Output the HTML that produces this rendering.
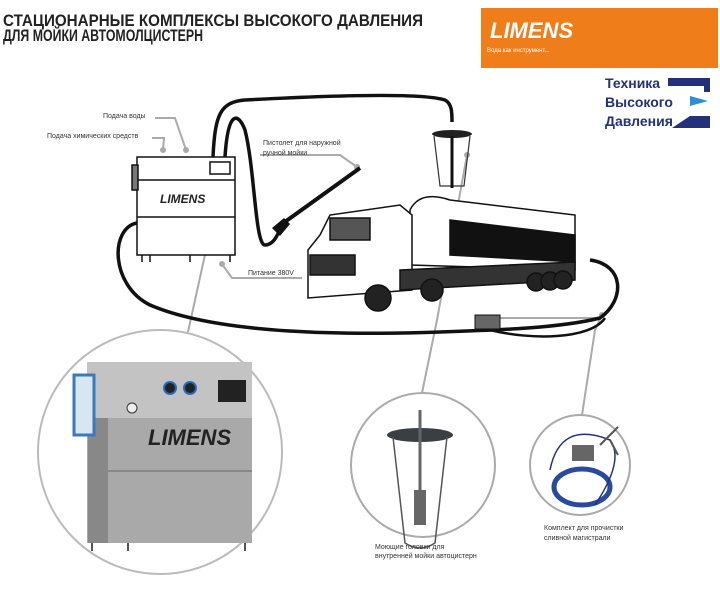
<!DOCTYPE html>
<html><head><meta charset="utf-8"><style>
body{margin:0;background:#fff;width:720px;height:595px;overflow:hidden;font-family:"Liberation Sans",sans-serif}
</style></head><body>
<svg width="720" height="595" viewBox="0 0 720 595" xmlns="http://www.w3.org/2000/svg" font-family="Liberation Sans, sans-serif">
<text x="3" y="26" font-size="17" font-weight="bold" fill="#222" textLength="420" lengthAdjust="spacingAndGlyphs">СТАЦИОНАРНЫЕ КОМПЛЕКСЫ ВЫСОКОГО ДАВЛЕНИЯ</text>
<text x="3" y="41" font-size="17" font-weight="bold" fill="#222" textLength="200" lengthAdjust="spacingAndGlyphs">ДЛЯ МОЙКИ АВТОМОЛЦИСТЕРН</text>
<rect x="481" y="8" width="237" height="60" fill="#ef7d1a"/>
<text x="490" y="38" font-size="22" font-weight="bold" font-style="italic" fill="#fff">LIMENS</text>
<text x="487" y="52" font-size="6" fill="#fff">Вода как инструмент...</text>
<g font-size="14" font-weight="bold" fill="#23307a">
<text x="605" y="88">Техника</text><text x="605" y="107">Высокого</text><text x="605" y="126">Давления</text></g>
<path d="M668 78h42v14h-6v-6h-36z" fill="#23307a"/><path d="M690 96l18 5-18 5z" fill="#2a8fd8"/><path d="M672 128l18-12h20v12z" fill="#23307a"/>
<!-- grey leaders -->
<g stroke="#aaa" stroke-width="2" fill="none">
<path d="M155 118h20l11 32M152 138h12l-1 12M260 155h80l17 12M222 264l10 14h70"/>
<path d="M467 155L437 320L422 393"/>
<path d="M210 232L188 332"/>
<path d="M602 315L595 330L582 415"/>
<path d="M490 318h110"/>
<circle cx="160" cy="452" r="122" stroke="#bbb"/>
<circle cx="423" cy="465" r="72"/>
<circle cx="580" cy="465" r="50"/>
</g>
<g fill="#aaa"><circle cx="186" cy="150" r="3"/><circle cx="163" cy="150" r="3"/><circle cx="357" cy="167" r="3"/><circle cx="467" cy="155" r="3"/><circle cx="210" cy="232" r="3"/><circle cx="222" cy="264" r="3"/><circle cx="602" cy="315" r="3"/><circle cx="492" cy="318" r="3"/></g>
<!-- hoses -->
<g fill="none" stroke="#111" stroke-width="3.5">
<path d="M213 157C215 115 220 102 245 100 C320 96 420 92 445 100 C452 104 452 112 452 122"/>
<path d="M225 157C228 110 238 112 245 130 C255 170 255 245 265 245 C275 245 280 230 282 222"/>
<path d="M137 223C110 228 110 285 150 305 C220 335 350 335 440 332 C500 330 560 328 600 318 C625 300 625 265 590 260"/>
<path d="M490 330C530 340 590 340 605 318" stroke-width="2.5"/>
</g>
<!-- machine -->
<g stroke="#111" stroke-width="1.5" fill="#fff">
<rect x="137" y="157" width="98" height="98"/><line x1="137" y1="180" x2="235" y2="180"/><line x1="137" y1="217" x2="235" y2="217"/>
<path d="M142 255v7M150 255v7M190 255v7M230 255v7"/>
<rect x="132" y="165" width="6" height="25" fill="#777"/>
<rect x="210" y="162" width="20" height="12"/>
</g>
<text x="160" y="203" font-size="12" font-weight="bold" font-style="italic" fill="#222">LIMENS</text>
<!-- gun -->
<path d="M282 224L360 168" stroke="#111" stroke-width="4"/>
<path d="M272 228l12-10 6 6-10 12z" fill="#111"/>
<!-- lamp -->
<ellipse cx="452" cy="134" rx="20" ry="4" fill="#222"/>
<path d="M434 136l6 50h24l6-50" fill="none" stroke="#333" stroke-width="1.2"/>
<path d="M452 136v52" stroke="#111" stroke-width="3"/>
<!-- truck -->
<g stroke="#111" stroke-width="1.5">
<path d="M410 210Q420 190 450 200L575 215V270L410 265Z" fill="#fff"/>
<path d="M450 220L575 235V262L450 255Z" fill="#111"/>
<path d="M320 235L330 215L400 205L412 215V290L308 298V250Z" fill="#fff"/>
<rect x="330" y="218" width="40" height="22" fill="#555"/>
<rect x="310" y="255" width="45" height="20" fill="#333"/>
<path d="M400 270L575 262V280L400 290Z" fill="#333"/>
<circle cx="378" cy="298" r="13" fill="#222"/><circle cx="432" cy="290" r="11" fill="#222"/><circle cx="536" cy="282" r="9" fill="#222"/><circle cx="550" cy="281" r="9" fill="#222"/><circle cx="563" cy="280" r="9" fill="#222"/>
</g>
<rect x="475" y="315" width="25" height="14" fill="#666" stroke="#111"/>
<!-- photo machine -->
<rect x="87" y="418" width="165" height="125" fill="#a9a9a9"/>
<rect x="87" y="362" width="165" height="56" fill="#c3c3c3"/>
<rect x="90" y="470" width="162" height="2" fill="#888"/>
<rect x="88" y="418" width="20" height="125" fill="#888"/>
<text x="148" y="445" font-size="22" font-weight="bold" font-style="italic" fill="#222">LIMENS</text>
<rect x="74" y="375" width="20" height="60" fill="#d8e6f2" stroke="#3a78c0" stroke-width="3"/>
<circle cx="170" cy="388" r="6" fill="#222" stroke="#2a6ac0" stroke-width="2"/><circle cx="190" cy="388" r="6" fill="#222" stroke="#2a6ac0" stroke-width="2"/>
<circle cx="132" cy="408" r="5" fill="#eee" stroke="#333"/>
<rect x="218" y="380" width="28" height="22" fill="#222"/>
<path d="M92 543v8M128 543v8M245 543v8" stroke="#555" stroke-width="2"/>
<!-- lamp detail -->
<ellipse cx="420" cy="435" rx="33" ry="7" fill="#3a3f44"/>
<path d="M393 437l12 106q15 10 30 0l12-106" fill="none" stroke="#555" stroke-width="1.5"/>
<path d="M420 410v110" stroke="#666" stroke-width="3"/>
<rect x="414" y="490" width="12" height="35" fill="#666"/>
<!-- kit -->
<ellipse cx="582" cy="487" rx="28" ry="18" fill="none" stroke="#2a4aa0" stroke-width="5"/>
<path d="M550 470Q560 420 610 440Q625 460 595 505" fill="none" stroke="#23307a" stroke-width="1.5"/>
<rect x="572" y="445" width="22" height="16" fill="#666"/>
<path d="M600 445l18-18M610 440l8 15" stroke="#555" stroke-width="2"/>
<g font-size="7" fill="#333">
<text x="103" y="118">Подача воды</text><text x="47" y="138">Подача химических средств</text>
<text x="263" y="145">Пистолет для наружной</text><text x="263" y="155">ручной мойки</text>
<text x="248" y="275">Питание 380V</text>
<text x="375" y="549">Моющие головки для</text><text x="375" y="558">внутренней мойки автоцистерн</text>
<text x="544" y="530">Комплект для прочистки</text><text x="544" y="540">сливной магистрали</text></g>
</svg>
</body></html>
